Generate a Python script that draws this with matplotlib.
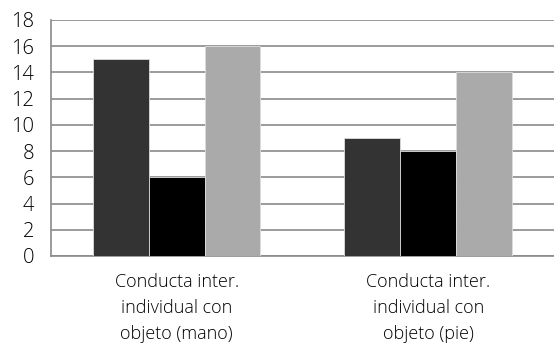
import numpy as np
import matplotlib.pyplot as plt

plt.rcParams['font.family'] = ['Open Sans', 'DejaVu Sans']
plt.rcParams['font.weight'] = 'light'

categories = ["Conducta inter.\nindividual con\nobjeto (mano)",
              "Conducta inter.\nindividual con\nobjeto (pie)"]
serie_1 = [15, 9]
serie_2 = [6, 8]
serie_3 = [16, 14]
colores = ["#333333", "#000000", "#aaaaaa"]

fig = plt.figure(figsize=(5.54, 3.56), dpi=100)
ax = fig.add_axes([0.092, 0.281, 0.908, 0.663])

x = np.arange(len(categories))
w = 0.222
for i, (vals, c) in enumerate(zip([serie_1, serie_2, serie_3], colores)):
    ax.bar(x + (i - 1) * w, vals, width=w, color=c, edgecolor="#dddddd",
           linewidth=0.6, zorder=3)

ax.set_xlim(-0.5, 1.5)
ax.set_ylim(0, 18)
ax.set_yticks(range(0, 19, 2))
ax.tick_params(axis='y', length=0, labelsize=14.5, pad=12)
ax.tick_params(axis='x', length=0, labelsize=13, pad=12)
ax.set_xticks(x)
ax.set_xticklabels(categories, linespacing=1.57)
ax.yaxis.grid(True, color="#8a8a8a", linewidth=1.2, zorder=0)

for s in ["top", "right"]:
    ax.spines[s].set_visible(False)
ax.spines["left"].set_color("#8a8a8a")
ax.spines["bottom"].set_color("#8a8a8a")
ax.spines["left"].set_linewidth(1.2)
ax.spines["bottom"].set_linewidth(1.2)

fig.savefig("out.png", dpi=100)
